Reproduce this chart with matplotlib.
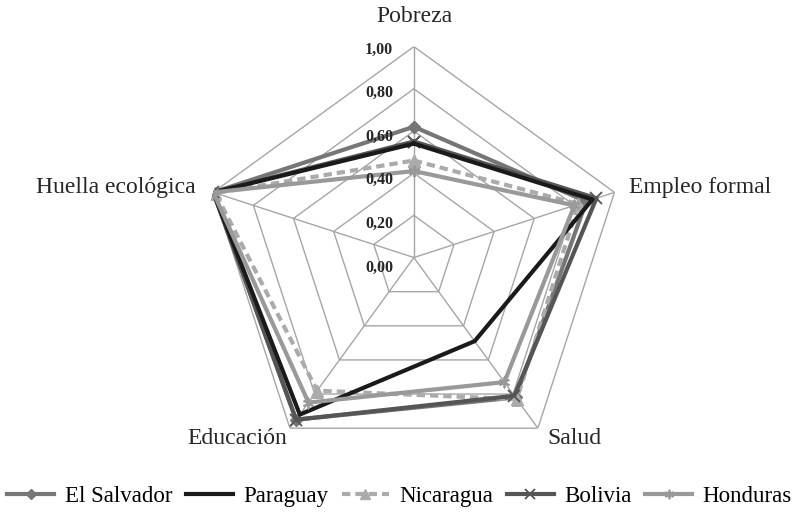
import matplotlib
matplotlib.use("Agg")
import matplotlib.pyplot as plt
import numpy as np

plt.rcParams['font.family'] = ['Liberation Serif', 'DejaVu Serif']

categories = ['Pobreza', 'Empleo formal', 'Salud', 'Educación', 'Huella ecológica']
series_names = ['El Salvador', 'Paraguay', 'Nicaragua', 'Bolivia', 'Honduras']
el_salvador = [0.62, 0.86, 0.82, 0.95, 1.00]
paraguay = [0.54, 0.89, 0.49, 0.92, 1.00]
nicaragua = [0.46, 0.82, 0.83, 0.78, 0.99]
bolivia = [0.55, 0.91, 0.81, 0.95, 1.00]
honduras = [0.41, 0.80, 0.73, 0.85, 1.00]
ring_values = [0.0, 0.2, 0.4, 0.6, 0.8, 1.0]
ring_labels = ['0,00', '0,20', '0,40', '0,60', '0,80', '1,00']

values = [el_salvador, paraguay, nicaragua, bolivia, honduras]
colors = ['#767676', '#1a1a1a', '#ababab', '#555555', '#999999']
styles = ['-', '-', (0, (2, 1.2)), '-', '-']
markers = ['D', None, '^', 'x', (6, 2, 0)]
zorders = [3, 5, 4, 4, 6]

n = len(categories)
angles = np.linspace(0, 2 * np.pi, n, endpoint=False)
closed = np.append(angles, angles[0])

fig = plt.figure(figsize=(7.99, 5.12), dpi=100)
ax = fig.add_axes([0.254, 0.085, 0.528, 0.824], projection='polar')
ax.set_theta_offset(np.pi / 2)
ax.set_theta_direction(-1)
ax.set_ylim(0, 1)
ax.grid(False)
ax.spines['polar'].set_visible(False)
ax.set_xticks([])
ax.set_yticks([])
ax.patch.set_alpha(0)

# pentagon rings and spokes
for r in ring_values[1:]:
    ax.plot(closed, [r] * (n + 1), color='#a6a6a6', lw=1.0, zorder=1)
for a in angles:
    ax.plot([a, a], [0, 1], color='#a6a6a6', lw=1.0, zorder=1)

for name, vals, c, ls, m, z in zip(series_names, values, colors, styles, markers, zorders):
    v = vals + vals[:1]
    ms = 6 if m == 'D' else 8
    ax.plot(closed, v, color=c, lw=3.0, linestyle=ls, marker=m, markersize=ms,
            markeredgewidth=1.3 if m in ('x', (6, 2, 0)) else 1.0,
            markerfacecolor=c, markeredgecolor=c, label=name, zorder=z)

# radial labels
for i, (r, lab) in enumerate(zip(ring_values, ring_labels)):
    ax.annotate(lab, xy=(0, r), xytext=(-21, -10 + 1.4 * i), textcoords='offset pixels',
                ha='right', va='center', fontsize=11.5, fontweight='bold',
                color='#262626', zorder=7)

# category labels
fs = 17
fig.text(414 / 799, 1 - 17 / 512, categories[0], ha='center', va='center', fontsize=fs, color='#262626')
fig.text(629 / 799, 1 - 188 / 512, categories[1], ha='left', va='center', fontsize=fs, color='#262626')
fig.text(547 / 799, 1 - 439 / 512, categories[2], ha='left', va='center', fontsize=fs, color='#262626')
fig.text(237 / 799, 1 - 438 / 512, categories[3], ha='center', va='center', fontsize=fs, color='#262626')
fig.text(196 / 799, 1 - 188 / 512, categories[4], ha='right', va='center', fontsize=fs, color='#262626')

fig.legend(loc='center', bbox_to_anchor=(0.5, 1 - 496 / 512), ncol=5, frameon=False,
           fontsize=16.5, handlelength=2.05, columnspacing=0.6, handletextpad=0.45,
           borderaxespad=0, borderpad=0, markerscale=0.85)

fig.savefig('out.png', dpi=100)
